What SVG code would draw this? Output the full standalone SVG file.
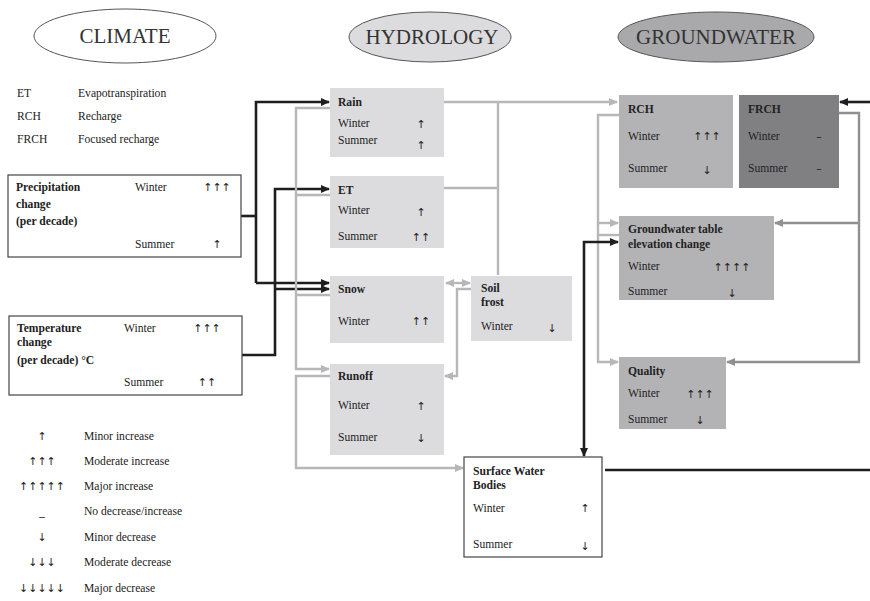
<svg xmlns="http://www.w3.org/2000/svg" width="870" height="601" viewBox="0 0 870 601">
<defs>
<style>
text{font-family:"Liberation Serif","Times New Roman",serif;font-size:11.6px;fill:#222}
.b{font-weight:bold}
.title{font-family:"Liberation Serif","Times New Roman",serif;font-size:21px;text-anchor:middle;fill:#333}
.sym{font-family:"DejaVu Sans","Noto Sans",sans-serif;font-size:11px;text-anchor:middle;fill:#222}
.hyd{fill:#dcdcde}
.gw{fill:#b3b3b5}
.fr{fill:#808083}
.blk{stroke:#1e1e1e;stroke-width:2.6;fill:none}
.gry{stroke:#b7b7b9;stroke-width:2.4;fill:none}
.dgr{stroke:#909093;stroke-width:2.4;fill:none}
</style>
<marker id="ab" markerWidth="9" markerHeight="8" refX="8" refY="4" orient="auto-start-reverse" markerUnits="userSpaceOnUse"><path d="M0,0 L9,4 L0,8 Z" fill="#1e1e1e"/></marker>
<marker id="ag" markerWidth="9" markerHeight="8" refX="8" refY="4" orient="auto-start-reverse" markerUnits="userSpaceOnUse"><path d="M0,0 L9,4 L0,8 Z" fill="#b7b7b9"/></marker>
<marker id="ad" markerWidth="9" markerHeight="8" refX="8" refY="4" orient="auto-start-reverse" markerUnits="userSpaceOnUse"><path d="M0,0 L9,4 L0,8 Z" fill="#909093"/></marker>
</defs>
<rect width="870" height="601" fill="#fff"/>

<g id="title-climate"><ellipse cx="125" cy="36" rx="91" ry="27" fill="#fff" stroke="#555" stroke-width="1"/><text x="125" y="43" class="title">CLIMATE</text></g>
<g id="title-hydrology"><ellipse cx="430" cy="37" rx="81" ry="25" fill="#dcdcde" stroke="#555" stroke-width="1"/><text x="432" y="44" class="title">HYDROLOGY</text></g>
<g id="title-groundwater"><ellipse cx="716" cy="37" rx="98" ry="25" fill="#a9a9ac" stroke="#555" stroke-width="1"/><text x="716" y="44" class="title">GROUNDWATER</text></g>

<g id="abbrev">
<text x="17" y="97">ET</text><text x="78" y="97">Evapotranspiration</text>
<text x="17" y="120">RCH</text><text x="78" y="120">Recharge</text>
<text x="17" y="143">FRCH</text><text x="78" y="143">Focused recharge</text>
</g>

<g id="connectors">
<polyline class="blk" points="241,216 256,216"/>
<polyline class="blk" points="256,283 256,102 329,102" marker-end="url(#ab)"/>
<polyline class="blk" points="256,283 329,283" marker-end="url(#ab)"/>
<polyline class="blk" points="242,355 275,355 275,189 329,189" marker-end="url(#ab)"/>
<polyline class="blk" points="275,289 329,289" marker-end="url(#ab)"/>
<polyline class="gry" points="444,102 617,102" marker-end="url(#ag)"/>
<polyline class="gry" points="498,102 498,275"/>
<polyline class="gry" points="444,188 498,188"/>
<polyline class="gry" points="330,108 296,108 296,369 329,369" marker-end="url(#ag)"/>
<polyline class="gry" points="330,195 296,195"/>
<polyline class="gry" points="330,295 296,295"/>
<polyline class="gry" points="330,376 296,376 296,468 463,468" marker-end="url(#ag)"/>
<polyline class="gry" points="446,283 470,283" marker-start="url(#ag)" marker-end="url(#ag)"/>
<polyline class="gry" points="471,289 457,289 457,376 445,376" marker-end="url(#ag)"/>
<polyline class="gry" points="619,115 598,115 598,362 618,362" marker-end="url(#ag)"/>
<polyline class="gry" points="598,223 618,223" marker-end="url(#ag)"/>
<polyline class="gry" points="619,235 598,235"/>
<polyline class="dgr" points="839,113 859,113 859,362 727,362" marker-end="url(#ad)"/>
<polyline class="dgr" points="859,223 775,223" marker-end="url(#ad)"/>
<polyline class="blk" points="870,102 840,102" marker-end="url(#ab)"/>
<polyline class="blk" points="584,456 584,242 618,242" marker-start="url(#ab)" marker-end="url(#ab)"/>
<polyline class="blk" points="605,470 870,470"/>
</g>

<g id="precipitation">
<rect x="8" y="175" width="233" height="82" fill="#fff" stroke="#444" stroke-width="1.2"/>
<text x="16" y="191" class="b">Precipitation</text>
<text x="16" y="208" class="b">change</text>
<text x="16" y="225" class="b">(per decade)</text>
<text x="135" y="191">Winter</text><text x="217" y="191" class="sym">↑↑↑</text>
<text x="135" y="248">Summer</text><text x="217" y="248" class="sym">↑</text>
</g>

<g id="temperature">
<rect x="9" y="316" width="233" height="79" fill="#fff" stroke="#444" stroke-width="1.2"/>
<text x="17" y="332" class="b">Temperature</text>
<text x="17" y="346" class="b">change</text>
<text x="17" y="364" class="b">(per decade) °C</text>
<text x="124" y="332">Winter</text><text x="207" y="332" class="sym">↑↑↑</text>
<text x="124" y="386">Summer</text><text x="207" y="386" class="sym">↑↑</text>
</g>

<g id="legend">
<text x="42" y="440" class="sym">↑</text><text x="84" y="440">Minor increase</text>
<text x="42" y="465" class="sym">↑↑↑</text><text x="84" y="465">Moderate increase</text>
<text x="42" y="490" class="sym">↑↑↑↑↑</text><text x="84" y="490">Major increase</text>
<text x="42" y="515" class="sym">_</text><text x="84" y="515">No decrease/increase</text>
<text x="42" y="541" class="sym">↓</text><text x="84" y="541">Minor decrease</text>
<text x="42" y="566" class="sym">↓↓↓</text><text x="84" y="566">Moderate decrease</text>
<text x="42" y="592" class="sym">↓↓↓↓↓</text><text x="84" y="592">Major decrease</text>
</g>

<g id="rain">
<rect x="330" y="88" width="114" height="69" class="hyd"/>
<text x="338" y="106" class="b">Rain</text>
<text x="338" y="127">Winter</text><text x="421" y="128" class="sym">↑</text>
<text x="338" y="144">Summer</text><text x="421" y="149" class="sym">↑</text>
</g>

<g id="et">
<rect x="330" y="176" width="114" height="72" class="hyd"/>
<text x="338" y="194" class="b">ET</text>
<text x="338" y="214">Winter</text><text x="421" y="216" class="sym">↑</text>
<text x="338" y="240">Summer</text><text x="421" y="241" class="sym">↑↑</text>
</g>

<g id="snow">
<rect x="330" y="276" width="114" height="67" class="hyd"/>
<text x="338" y="293" class="b">Snow</text>
<text x="338" y="325">Winter</text><text x="421" y="325" class="sym">↑↑</text>
</g>

<g id="soil-frost">
<rect x="471" y="276" width="101" height="65" class="hyd"/>
<text x="481" y="292" class="b">Soil</text>
<text x="481" y="306" class="b">frost</text>
<text x="481" y="330">Winter</text><text x="552" y="332" class="sym">↓</text>
</g>

<g id="runoff">
<rect x="330" y="364" width="114" height="91" class="hyd"/>
<text x="338" y="380" class="b">Runoff</text>
<text x="338" y="409">Winter</text><text x="421" y="410" class="sym">↑</text>
<text x="338" y="441">Summer</text><text x="421" y="442" class="sym">↓</text>
</g>

<g id="surface-water">
<rect x="464" y="457" width="138" height="100" fill="#fff" stroke="#444" stroke-width="1.2"/>
<text x="473" y="475" class="b">Surface Water</text>
<text x="473" y="489" class="b">Bodies</text>
<text x="473" y="512">Winter</text><text x="585" y="512" class="sym">↑</text>
<text x="473" y="548">Summer</text><text x="585" y="550" class="sym">↓</text>
</g>

<g id="rch">
<rect x="619" y="95" width="114" height="93" class="gw"/>
<text x="628" y="113" class="b">RCH</text>
<text x="628" y="140">Winter</text><text x="707" y="140" class="sym">↑↑↑</text>
<text x="628" y="172">Summer</text><text x="707" y="174" class="sym">↓</text>
</g>

<g id="frch">
<rect x="739" y="95" width="100" height="93" class="fr"/>
<text x="748" y="113" class="b">FRCH</text>
<text x="748" y="140">Winter</text><text x="819" y="140" class="sym">–</text>
<text x="748" y="172">Summer</text><text x="819" y="172" class="sym">–</text>
</g>

<g id="gw-table">
<rect x="619" y="216" width="155" height="84" class="gw"/>
<text x="628" y="233" class="b">Groundwater table</text>
<text x="628" y="248" class="b">elevation change</text>
<text x="628" y="270">Winter</text><text x="732" y="271" class="sym">↑↑↑↑</text>
<text x="628" y="295">Summer</text><text x="732" y="297" class="sym">↓</text>
</g>

<g id="quality">
<rect x="619" y="357" width="107" height="72" class="gw"/>
<text x="628" y="375" class="b">Quality</text>
<text x="628" y="397">Winter</text><text x="700" y="398" class="sym">↑↑↑</text>
<text x="628" y="423">Summer</text><text x="700" y="424" class="sym">↓</text>
</g>
</svg>
